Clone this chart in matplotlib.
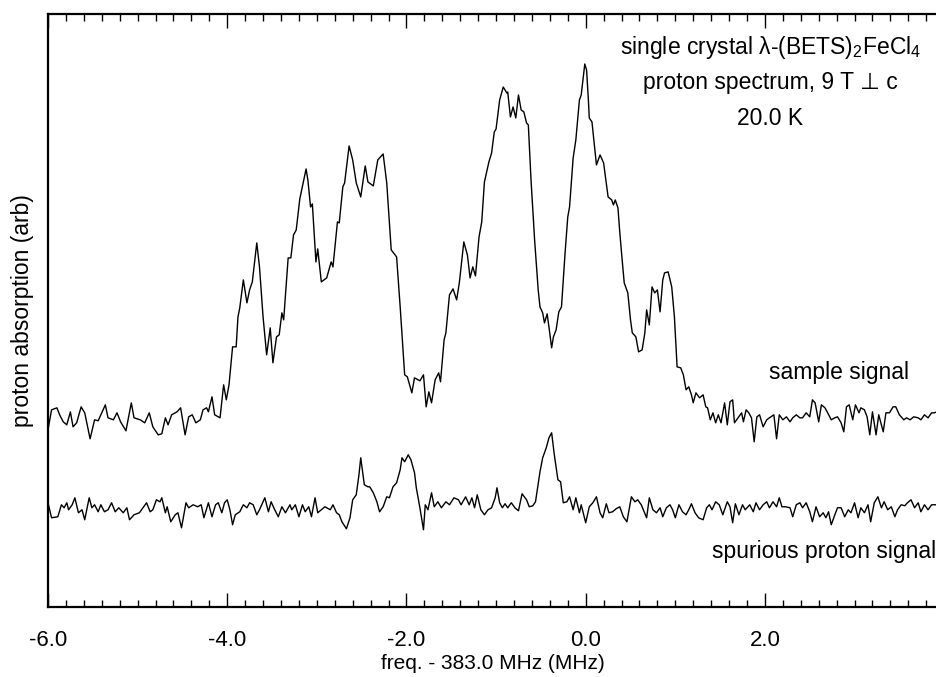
import numpy as np
import matplotlib
matplotlib.use("Agg")
import matplotlib.pyplot as plt
from matplotlib.ticker import MultipleLocator

plt.rcParams['font.family'] = ['Liberation Sans', 'DejaVu Sans']
plt.rcParams['mathtext.fontset'] = 'custom'
plt.rcParams['mathtext.rm'] = 'Liberation Sans'
plt.rcParams['mathtext.it'] = 'Liberation Sans:italic'

# sample signal (freq offset MHz, arb units)
sample_f = [-6.00, -5.96, -5.90, -5.87, -5.83, -5.79, -5.75, -5.72, -5.68, -5.63,
            -5.59, -5.53, -5.48, -5.44, -5.42, -5.36, -5.33, -5.27, -5.23, -5.19,
            -5.13, -5.07, -5.04, -4.97, -4.92, -4.87, -4.83, -4.77, -4.73, -4.69,
            -4.66, -4.62, -4.56, -4.52, -4.47, -4.43, -4.39, -4.35, -4.30, -4.27,
            -4.23, -4.21, -4.17, -4.14, -4.08, -4.04, -4.01, -3.98, -3.94, -3.90,
            -3.88, -3.86, -3.82, -3.78, -3.75, -3.72, -3.67, -3.64, -3.60, -3.56,
            -3.52, -3.49, -3.45, -3.42, -3.39, -3.37, -3.32, -3.29, -3.26, -3.23,
            -3.19, -3.12, -3.10, -3.07, -3.05, -3.01, -2.99, -2.95, -2.89, -2.84,
            -2.82, -2.77, -2.75, -2.71, -2.69, -2.64, -2.60, -2.56, -2.51, -2.46,
            -2.43, -2.37, -2.32, -2.26, -2.22, -2.17, -2.11, -2.07, -2.02, -1.99,
            -1.94, -1.91, -1.85, -1.81, -1.78, -1.75, -1.72, -1.68, -1.64, -1.62,
            -1.58, -1.56, -1.52, -1.48, -1.44, -1.41, -1.36, -1.32, -1.29, -1.26,
            -1.23, -1.19, -1.16, -1.13, -1.08, -1.05, -1.02, -1.00, -0.96, -0.92,
            -0.88, -0.87, -0.84, -0.81, -0.78, -0.75, -0.72, -0.69, -0.66, -0.64,
            -0.61, -0.57, -0.53, -0.51, -0.48, -0.46, -0.43, -0.41, -0.38, -0.36,
            -0.33, -0.30, -0.27, -0.23, -0.20, -0.18, -0.14, -0.11, -0.07, -0.05,
            -0.01, 0.01, 0.03, 0.04, 0.07, 0.12, 0.16, 0.20, 0.25, 0.29,
            0.31, 0.33, 0.36, 0.38, 0.40, 0.43, 0.47, 0.50, 0.52, 0.56,
            0.59, 0.63, 0.66, 0.68, 0.71, 0.74, 0.77, 0.80, 0.83, 0.86,
            0.88, 0.92, 0.96, 0.99, 1.02, 1.06, 1.09, 1.12, 1.15, 1.18,
            1.20, 1.23, 1.27, 1.31, 1.34, 1.36, 1.39, 1.42, 1.45, 1.48,
            1.51, 1.55, 1.58, 1.61, 1.64, 1.66, 1.70, 1.74, 1.76, 1.79,
            1.82, 1.85, 1.88, 1.91, 1.94, 1.98, 2.02, 2.05, 2.10, 2.13,
            2.16, 2.20, 2.24, 2.28, 2.31, 2.35, 2.39, 2.42, 2.46, 2.50,
            2.53, 2.56, 2.60, 2.63, 2.67, 2.70, 2.74, 2.78, 2.81, 2.85,
            2.88, 2.91, 2.94, 2.98, 3.01, 3.05, 3.07, 3.11, 3.14, 3.17,
            3.20, 3.24, 3.27, 3.32, 3.35, 3.39, 3.43, 3.46, 3.50, 3.55,
            3.58, 3.62, 3.66, 3.71, 3.74, 3.78, 3.82, 3.86, 3.89, 3.92]
sample_y = [1.77, 1.97, 1.99, 1.92, 1.85, 1.82, 1.95, 1.80, 1.84, 2.00,
            1.94, 1.68, 1.87, 1.86, 1.90, 2.02, 1.89, 1.87, 1.94, 1.85,
            1.76, 2.04, 1.89, 1.87, 1.84, 1.94, 1.80, 1.72, 1.73, 1.89,
            1.82, 1.92, 1.95, 1.99, 1.72, 1.90, 1.92, 1.84, 1.87, 1.97,
            1.99, 1.95, 2.10, 1.92, 1.89, 2.22, 2.07, 2.22, 2.60, 2.60,
            2.90, 2.99, 3.27, 3.04, 3.17, 3.25, 3.64, 3.40, 2.90, 2.52,
            2.79, 2.44, 2.70, 2.72, 2.94, 2.87, 3.49, 3.49, 3.72, 3.77,
            4.08, 4.38, 4.27, 4.00, 4.03, 3.45, 3.58, 3.25, 3.29, 3.45,
            3.40, 3.85, 3.84, 4.20, 4.24, 4.61, 4.47, 4.24, 4.10, 4.41,
            4.25, 4.21, 4.47, 4.53, 4.24, 3.57, 3.50, 3.00, 2.32, 2.30,
            2.14, 2.29, 2.26, 2.32, 2.00, 2.15, 2.04, 2.27, 2.34, 2.25,
            2.67, 2.74, 3.12, 3.18, 3.07, 3.24, 3.65, 3.52, 3.29, 3.40,
            3.31, 3.70, 3.85, 4.25, 4.45, 4.54, 4.75, 4.78, 5.07, 5.20,
            5.14, 5.15, 4.90, 5.00, 4.89, 5.12, 4.97, 4.95, 4.84, 4.82,
            4.27, 3.67, 3.17, 3.00, 2.94, 2.84, 2.93, 2.80, 2.59, 2.70,
            2.77, 2.95, 3.00, 3.54, 3.90, 4.00, 4.49, 4.67, 5.07, 5.12,
            5.43, 5.37, 5.07, 4.89, 4.85, 4.42, 4.52, 4.44, 4.10, 4.07,
            4.02, 4.07, 3.99, 3.75, 3.54, 3.24, 3.14, 2.87, 2.74, 2.70,
            2.55, 2.57, 2.74, 2.97, 2.82, 3.20, 3.14, 3.17, 2.95, 3.27,
            3.34, 3.35, 3.20, 2.90, 2.40, 2.39, 2.32, 2.17, 2.20, 2.12,
            2.04, 2.14, 2.09, 2.12, 2.00, 1.99, 1.87, 1.94, 1.84, 1.92,
            1.84, 2.04, 1.82, 2.05, 2.07, 1.84, 1.89, 1.94, 1.85, 1.97,
            1.94, 1.89, 1.65, 1.90, 1.92, 1.80, 1.87, 1.89, 1.92, 1.68,
            1.92, 1.87, 1.90, 1.85, 1.89, 1.92, 1.89, 1.89, 1.94, 1.90,
            2.07, 2.04, 1.85, 2.02, 1.99, 1.94, 1.87, 1.89, 1.90, 1.84,
            1.75, 2.00, 2.02, 1.87, 2.02, 1.94, 1.99, 1.97, 1.90, 1.72,
            1.95, 1.72, 1.92, 1.75, 1.94, 1.94, 2.00, 2.00, 1.92, 1.87,
            1.89, 1.87, 1.90, 1.89, 1.87, 1.92, 1.89, 1.94, 1.94, 1.95]

# spurious proton signal (background)
spur_f = [-6.00, -5.96, -5.89, -5.85, -5.82, -5.79, -5.77, -5.73, -5.70, -5.66,
          -5.62, -5.59, -5.54, -5.51, -5.48, -5.44, -5.41, -5.37, -5.33, -5.29,
          -5.25, -5.21, -5.16, -5.12, -5.09, -5.04, -4.98, -4.94, -4.90, -4.86,
          -4.83, -4.79, -4.75, -4.73, -4.69, -4.67, -4.63, -4.58, -4.55, -4.51,
          -4.46, -4.43, -4.38, -4.33, -4.29, -4.26, -4.21, -4.17, -4.13, -4.10,
          -4.06, -4.03, -4.00, -3.97, -3.94, -3.91, -3.86, -3.82, -3.78, -3.75,
          -3.71, -3.67, -3.64, -3.58, -3.54, -3.51, -3.47, -3.43, -3.39, -3.35,
          -3.30, -3.28, -3.24, -3.20, -3.16, -3.13, -3.09, -3.06, -3.02, -2.99,
          -2.95, -2.91, -2.85, -2.82, -2.78, -2.75, -2.72, -2.67, -2.63, -2.60,
          -2.56, -2.53, -2.51, -2.47, -2.43, -2.41, -2.37, -2.33, -2.30, -2.26,
          -2.22, -2.19, -2.15, -2.11, -2.07, -2.05, -2.02, -1.98, -1.95, -1.91,
          -1.89, -1.85, -1.81, -1.79, -1.76, -1.72, -1.69, -1.65, -1.61, -1.56,
          -1.52, -1.47, -1.42, -1.39, -1.34, -1.30, -1.27, -1.24, -1.21, -1.17,
          -1.13, -1.09, -1.05, -1.01, -0.99, -0.96, -0.93, -0.90, -0.87, -0.83,
          -0.79, -0.75, -0.71, -0.66, -0.63, -0.59, -0.56, -0.51, -0.48, -0.44,
          -0.41, -0.38, -0.35, -0.31, -0.28, -0.25, -0.21, -0.18, -0.14, -0.11,
          -0.07, -0.05, 0.00, 0.04, 0.08, 0.12, 0.16, 0.19, 0.23, 0.26,
          0.30, 0.34, 0.38, 0.42, 0.46, 0.51, 0.55, 0.58, 0.62, 0.68,
          0.71, 0.75, 0.79, 0.83, 0.86, 0.90, 0.94, 0.97, 1.00, 1.04,
          1.08, 1.12, 1.15, 1.18, 1.22, 1.26, 1.31, 1.35, 1.38, 1.41,
          1.45, 1.49, 1.53, 1.58, 1.61, 1.64, 1.67, 1.71, 1.75, 1.78,
          1.83, 1.87, 1.90, 1.94, 1.98, 2.02, 2.05, 2.09, 2.13, 2.16,
          2.19, 2.23, 2.28, 2.31, 2.35, 2.39, 2.42, 2.46, 2.50, 2.53,
          2.57, 2.61, 2.65, 2.68, 2.71, 2.74, 2.78, 2.81, 2.85, 2.89,
          2.93, 2.96, 3.00, 3.04, 3.07, 3.11, 3.15, 3.18, 3.22, 3.26,
          3.30, 3.33, 3.37, 3.41, 3.45, 3.48, 3.52, 3.56, 3.59, 3.63,
          3.67, 3.71, 3.74, 3.78, 3.82, 3.86, 3.91]
spur_y = [1.04, 0.89, 0.90, 1.02, 0.99, 1.04, 0.97, 1.02, 1.09, 0.94,
          0.97, 0.87, 1.09, 0.99, 1.02, 0.95, 1.02, 0.95, 0.97, 1.04,
          0.95, 0.99, 0.94, 0.99, 0.87, 0.92, 0.94, 0.99, 1.04, 0.95,
          0.97, 1.07, 1.05, 1.09, 0.94, 1.00, 0.85, 0.92, 0.94, 0.79,
          1.04, 0.99, 1.02, 1.00, 1.02, 0.89, 1.04, 0.90, 1.02, 1.04,
          0.94, 1.04, 1.07, 0.97, 0.82, 0.92, 0.95, 1.02, 0.99, 1.04,
          1.02, 0.92, 0.97, 1.09, 0.95, 1.05, 0.97, 0.90, 1.00, 0.94,
          1.02, 0.97, 1.02, 0.90, 1.02, 0.95, 1.00, 0.90, 1.09, 0.94,
          0.97, 1.00, 0.97, 1.02, 0.94, 0.92, 0.85, 0.78, 0.89, 1.07,
          1.12, 1.32, 1.49, 1.22, 1.20, 1.20, 1.14, 1.05, 0.95, 1.00,
          1.10, 1.09, 1.20, 1.24, 1.37, 1.49, 1.45, 1.52, 1.47, 1.34,
          1.19, 0.99, 0.77, 1.02, 0.97, 1.14, 1.00, 1.05, 0.99, 1.05,
          1.02, 1.09, 1.07, 1.02, 1.10, 1.02, 1.09, 0.99, 1.12, 0.97,
          0.92, 0.97, 0.99, 1.09, 1.19, 1.04, 0.99, 1.03, 0.99, 1.04,
          0.99, 0.96, 1.13, 1.07, 1.00, 1.01, 1.05, 1.35, 1.49, 1.59,
          1.69, 1.74, 1.52, 1.27, 1.25, 1.04, 1.05, 1.10, 0.97, 1.09,
          0.94, 1.02, 0.84, 1.00, 1.04, 1.10, 0.94, 0.89, 1.03, 0.94,
          0.95, 0.98, 1.00, 0.90, 0.85, 1.10, 1.05, 1.07, 1.02, 0.89,
          1.09, 0.97, 0.94, 0.99, 0.90, 0.99, 1.02, 0.97, 0.89, 1.02,
          0.95, 0.92, 0.97, 1.03, 0.94, 0.89, 0.87, 0.99, 1.02, 0.97,
          1.05, 1.02, 0.92, 1.05, 1.00, 0.84, 1.03, 0.92, 1.02, 0.97,
          1.02, 0.95, 1.04, 0.97, 1.02, 1.05, 0.99, 1.05, 1.00, 1.09,
          1.00, 1.00, 0.99, 0.90, 1.02, 1.04, 0.99, 1.04, 0.95, 0.85,
          1.00, 0.90, 0.94, 0.89, 0.95, 0.82, 0.92, 0.99, 0.99, 0.90,
          0.97, 0.94, 1.04, 0.89, 0.99, 0.94, 1.02, 0.85, 1.04, 1.10,
          0.99, 1.05, 0.97, 1.00, 0.90, 0.97, 1.02, 1.01, 1.04, 1.07,
          0.99, 1.04, 0.95, 1.02, 0.97, 1.02, 1.02]

fig = plt.figure(figsize=(9.37, 6.77), dpi=100)
ax = fig.add_axes([0.0512, 0.1038, 0.9488, 0.8755])

ax.plot(sample_f, sample_y, color='black', lw=1.0)
ax.plot(spur_f, spur_y, color='black', lw=1.0)

ax.set_xlim(-6.0, 3.92)
ax.set_ylim(0, 5.93)

ax.xaxis.set_major_locator(MultipleLocator(2.0))
ax.xaxis.set_minor_locator(MultipleLocator(0.2))
ax.xaxis.set_major_formatter(plt.FuncFormatter(lambda v, p: f"{v:.1f}"))
ax.tick_params(axis='x', which='both', direction='in', top=True, bottom=True,
               labelsize=16, width=1.0, pad=17)
ax.tick_params(axis='x', which='major', length=10)
ax.tick_params(axis='x', which='minor', length=5)
ax.set_yticks([])
ax.spines['right'].set_visible(False)
for s in ['left', 'bottom', 'top']:
    ax.spines[s].set_linewidth(1.6)

ax.set_xlabel('freq. - 383.0 MHz (MHz)', fontsize=15, labelpad=2)
ax.set_ylabel('proton absorption (arb)', fontsize=16.5, labelpad=10)

ax.text(2.06, 5.59, 'single crystal λ-(BETS)$_2$FeCl$_4$', ha='center', va='center', fontsize=16.5)
ax.text(2.06, 5.24, 'proton spectrum, 9 T ⊥ c', ha='center', va='center', fontsize=16.5)
ax.text(2.06, 4.88, '20.0 K', ha='center', va='center', fontsize=16.5)
ax.text(2.83, 2.34, 'sample signal', ha='center', va='center', fontsize=16.5)
ax.text(2.66, 0.55, 'spurious proton signal', ha='center', va='center', fontsize=16.5)

fig.savefig('out.png', dpi=100)
